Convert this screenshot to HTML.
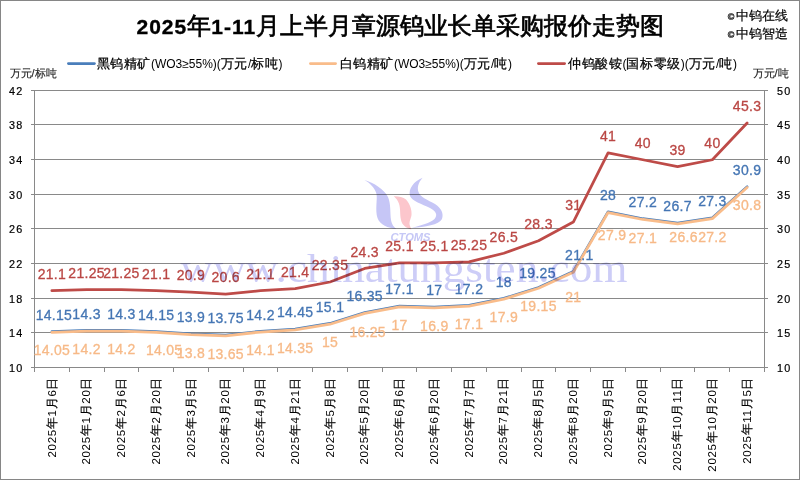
<!DOCTYPE html>
<html><head><meta charset="utf-8"><style>
html,body{margin:0;padding:0;background:#fff;}
body{width:800px;height:480px;overflow:hidden;position:relative;}
svg{position:absolute;left:0;top:0;}
</style></head><body>
<svg width="800" height="480" viewBox="0 0 800 480">
<rect x="0.5" y="0.5" width="799" height="479" fill="#fff" stroke="#868686" stroke-width="1"/>
<g><line x1="31" y1="90.5" x2="768" y2="90.5" stroke="#898989" stroke-width="1"/><line x1="31" y1="124.5" x2="768" y2="124.5" stroke="#898989" stroke-width="1"/><line x1="31" y1="159.5" x2="768" y2="159.5" stroke="#898989" stroke-width="1"/><line x1="31" y1="194.5" x2="768" y2="194.5" stroke="#898989" stroke-width="1"/><line x1="31" y1="228.5" x2="768" y2="228.5" stroke="#898989" stroke-width="1"/><line x1="31" y1="263.5" x2="768" y2="263.5" stroke="#898989" stroke-width="1"/><line x1="31" y1="298.5" x2="768" y2="298.5" stroke="#898989" stroke-width="1"/><line x1="31" y1="332.5" x2="768" y2="332.5" stroke="#898989" stroke-width="1"/><line x1="31" y1="367.5" x2="768" y2="367.5" stroke="#898989" stroke-width="1"/><line x1="34.5" y1="90" x2="34.5" y2="372" stroke="#898989" stroke-width="1"/><line x1="764.5" y1="90" x2="764.5" y2="368" stroke="#898989" stroke-width="1"/><line x1="69.5" y1="367" x2="69.5" y2="372" stroke="#898989" stroke-width="1"/><line x1="104.5" y1="367" x2="104.5" y2="372" stroke="#898989" stroke-width="1"/><line x1="138.5" y1="367" x2="138.5" y2="372" stroke="#898989" stroke-width="1"/><line x1="173.5" y1="367" x2="173.5" y2="372" stroke="#898989" stroke-width="1"/><line x1="208.5" y1="367" x2="208.5" y2="372" stroke="#898989" stroke-width="1"/><line x1="243.5" y1="367" x2="243.5" y2="372" stroke="#898989" stroke-width="1"/><line x1="277.5" y1="367" x2="277.5" y2="372" stroke="#898989" stroke-width="1"/><line x1="312.5" y1="367" x2="312.5" y2="372" stroke="#898989" stroke-width="1"/><line x1="347.5" y1="367" x2="347.5" y2="372" stroke="#898989" stroke-width="1"/><line x1="382.5" y1="367" x2="382.5" y2="372" stroke="#898989" stroke-width="1"/><line x1="416.5" y1="367" x2="416.5" y2="372" stroke="#898989" stroke-width="1"/><line x1="451.5" y1="367" x2="451.5" y2="372" stroke="#898989" stroke-width="1"/><line x1="486.5" y1="367" x2="486.5" y2="372" stroke="#898989" stroke-width="1"/><line x1="521.5" y1="367" x2="521.5" y2="372" stroke="#898989" stroke-width="1"/><line x1="555.5" y1="367" x2="555.5" y2="372" stroke="#898989" stroke-width="1"/><line x1="590.5" y1="367" x2="590.5" y2="372" stroke="#898989" stroke-width="1"/><line x1="625.5" y1="367" x2="625.5" y2="372" stroke="#898989" stroke-width="1"/><line x1="660.5" y1="367" x2="660.5" y2="372" stroke="#898989" stroke-width="1"/><line x1="694.5" y1="367" x2="694.5" y2="372" stroke="#898989" stroke-width="1"/><line x1="729.5" y1="367" x2="729.5" y2="372" stroke="#898989" stroke-width="1"/><line x1="764.5" y1="367" x2="764.5" y2="372" stroke="#898989" stroke-width="1"/></g>
<g><path d="M51.88,290.63 L86.64,289.59 L121.40,289.59 L156.17,290.63 L190.93,292.02 L225.69,294.10 L260.45,290.63 L295.21,288.56 L329.98,281.98 L364.74,268.47 L399.50,262.93 L434.26,262.93 L469.02,261.89 L503.79,253.24 L538.55,240.77 L573.31,222.07 L608.07,152.82 L642.83,159.75 L677.60,166.68 L712.36,159.75 L747.12,123.05" fill="none" stroke="#BE4B48" stroke-width="2.75" stroke-linecap="round" stroke-linejoin="round"/><path d="M51.88,331.58 L86.64,330.28 L121.40,330.28 L156.17,331.58 L190.93,333.74 L225.69,335.04 L260.45,331.14 L295.21,328.98 L329.98,323.35 L364.74,312.53 L399.50,306.04 L434.26,306.91 L469.02,305.18 L503.79,298.25 L538.55,287.43 L573.31,271.42 L608.07,211.69 L642.83,218.61 L677.60,222.94 L712.36,217.75 L747.12,186.58" fill="none" stroke="#4A7EBB" stroke-width="2.5" stroke-linecap="round" stroke-linejoin="round"/><path d="M51.88,332.44 L86.64,331.14 L121.40,331.14 L156.17,332.44 L190.93,334.61 L225.69,335.90 L260.45,332.01 L295.21,329.85 L329.98,324.22 L364.74,313.40 L399.50,306.91 L434.26,307.77 L469.02,306.04 L503.79,299.12 L538.55,288.30 L573.31,272.28 L608.07,212.55 L642.83,219.48 L677.60,223.81 L712.36,218.61 L747.12,187.45" fill="none" stroke="#F9BC8A" stroke-width="2.75" stroke-linecap="round" stroke-linejoin="round"/></g>
<g font-family="Liberation Sans, sans-serif" font-size="14" letter-spacing="0.3" stroke-width="0.3" text-anchor="middle"><text x="51.9" y="278.9" fill="#BA4744" stroke="#BA4744">21.1</text><text x="86.6" y="277.9" fill="#BA4744" stroke="#BA4744">21.25</text><text x="121.4" y="277.9" fill="#BA4744" stroke="#BA4744">21.25</text><text x="156.2" y="278.9" fill="#BA4744" stroke="#BA4744">21.1</text><text x="190.9" y="280.3" fill="#BA4744" stroke="#BA4744">20.9</text><text x="225.7" y="282.4" fill="#BA4744" stroke="#BA4744">20.6</text><text x="260.5" y="278.9" fill="#BA4744" stroke="#BA4744">21.1</text><text x="295.2" y="276.9" fill="#BA4744" stroke="#BA4744">21.4</text><text x="330.0" y="270.3" fill="#BA4744" stroke="#BA4744">22.35</text><text x="364.7" y="256.8" fill="#BA4744" stroke="#BA4744">24.3</text><text x="399.5" y="251.2" fill="#BA4744" stroke="#BA4744">25.1</text><text x="434.3" y="251.2" fill="#BA4744" stroke="#BA4744">25.1</text><text x="469.0" y="250.2" fill="#BA4744" stroke="#BA4744">25.25</text><text x="503.8" y="241.5" fill="#BA4744" stroke="#BA4744">26.5</text><text x="538.5" y="229.1" fill="#BA4744" stroke="#BA4744">28.3</text><text x="573.3" y="210.4" fill="#BA4744" stroke="#BA4744">31</text><text x="608.1" y="141.1" fill="#BA4744" stroke="#BA4744">41</text><text x="642.8" y="148.1" fill="#BA4744" stroke="#BA4744">40</text><text x="677.6" y="155.0" fill="#BA4744" stroke="#BA4744">39</text><text x="712.4" y="148.1" fill="#BA4744" stroke="#BA4744">40</text><text x="747.1" y="111.3" fill="#BA4744" stroke="#BA4744">45.3</text><text x="53.9" y="320.0" fill="#4576B4" stroke="#4576B4">14.15</text><text x="86.6" y="318.7" fill="#4576B4" stroke="#4576B4">14.3</text><text x="121.4" y="318.7" fill="#4576B4" stroke="#4576B4">14.3</text><text x="156.2" y="320.0" fill="#4576B4" stroke="#4576B4">14.15</text><text x="190.9" y="322.1" fill="#4576B4" stroke="#4576B4">13.9</text><text x="225.7" y="323.4" fill="#4576B4" stroke="#4576B4">13.75</text><text x="260.5" y="319.5" fill="#4576B4" stroke="#4576B4">14.2</text><text x="295.2" y="317.4" fill="#4576B4" stroke="#4576B4">14.45</text><text x="330.0" y="311.8" fill="#4576B4" stroke="#4576B4">15.1</text><text x="364.7" y="300.9" fill="#4576B4" stroke="#4576B4">16.35</text><text x="399.5" y="294.4" fill="#4576B4" stroke="#4576B4">17.1</text><text x="434.3" y="295.3" fill="#4576B4" stroke="#4576B4">17</text><text x="469.0" y="293.6" fill="#4576B4" stroke="#4576B4">17.2</text><text x="503.8" y="286.6" fill="#4576B4" stroke="#4576B4">18</text><text x="537.5" y="277.8" fill="#4576B4" stroke="#4576B4">19.25</text><text x="579.3" y="259.8" fill="#4576B4" stroke="#4576B4">21.1</text><text x="608.1" y="200.1" fill="#4576B4" stroke="#4576B4">28</text><text x="642.8" y="207.0" fill="#4576B4" stroke="#4576B4">27.2</text><text x="677.6" y="211.3" fill="#4576B4" stroke="#4576B4">26.7</text><text x="712.4" y="206.1" fill="#4576B4" stroke="#4576B4">27.3</text><text x="747.1" y="175.0" fill="#4576B4" stroke="#4576B4">30.9</text><text x="51.9" y="355.4" fill="#F7BA88" stroke="#F7BA88">14.05</text><text x="86.6" y="354.1" fill="#F7BA88" stroke="#F7BA88">14.2</text><text x="121.4" y="354.1" fill="#F7BA88" stroke="#F7BA88">14.2</text><text x="164.2" y="355.4" fill="#F7BA88" stroke="#F7BA88">14.05</text><text x="190.9" y="357.6" fill="#F7BA88" stroke="#F7BA88">13.8</text><text x="225.7" y="358.9" fill="#F7BA88" stroke="#F7BA88">13.65</text><text x="260.5" y="355.0" fill="#F7BA88" stroke="#F7BA88">14.1</text><text x="295.2" y="352.8" fill="#F7BA88" stroke="#F7BA88">14.35</text><text x="330.0" y="347.2" fill="#F7BA88" stroke="#F7BA88">15</text><text x="367.7" y="337.4" fill="#F7BA88" stroke="#F7BA88">16.25</text><text x="399.5" y="329.9" fill="#F7BA88" stroke="#F7BA88">17</text><text x="434.3" y="330.8" fill="#F7BA88" stroke="#F7BA88">16.9</text><text x="469.0" y="329.0" fill="#F7BA88" stroke="#F7BA88">17.1</text><text x="503.8" y="322.1" fill="#F7BA88" stroke="#F7BA88">17.9</text><text x="538.5" y="311.3" fill="#F7BA88" stroke="#F7BA88">19.15</text><text x="573.3" y="301.8" fill="#F7BA88" stroke="#F7BA88">21</text><text x="612.1" y="240.1" fill="#F7BA88" stroke="#F7BA88">27.9</text><text x="642.8" y="242.5" fill="#F7BA88" stroke="#F7BA88">27.1</text><text x="683.6" y="242.3" fill="#F7BA88" stroke="#F7BA88">26.6</text><text x="712.4" y="241.6" fill="#F7BA88" stroke="#F7BA88">27.2</text><text x="747.1" y="210.4" fill="#F7BA88" stroke="#F7BA88">30.8</text></g>
<g style="mix-blend-mode:multiply"><text x="404" y="282.2" text-anchor="middle" font-family="Liberation Serif" font-size="39" fill="#cdcdf7" textLength="447" lengthAdjust="spacingAndGlyphs">www.chinatungsten.com</text><g><path d="M364.4,180 C374,183 384,189 388,197 C391,204 390,213 391,220 C392,225 394,227 396.5,229 C388,228 380,225 377.5,218 C375,210 377.5,200 376.5,194 C375,188 370,183 364.4,180 Z" fill="#c6c6f6"/><path d="M393.8,196.2 C398,196 403,197 406,199.5 C410,204 412,210 411.5,215 C411,219 408.5,222 410,226 L411.3,229.4 C406,228 402,225 401,220 C399.5,213 401,207 398,201.5 C397,199 395,197.5 393.8,196.2 Z" fill="#fcc6cc"/><path d="M422.6,177.8 C418,183 417,188 418.5,192 C420,197 428,200 435,204 C441,208 444,213 442,219 C439,225 425,227 411.6,227.8 C421,225.5 430,223 434.5,219 C438,215 436,211 430,208 C422,204 412,201 410,196 C408,189 414,181 422.6,177.8 Z" fill="#c6c6f6"/><text x="410.5" y="240.5" text-anchor="middle" font-family="Liberation Sans" font-weight="bold" font-style="italic" font-size="11" fill="#c6c8f6" textLength="40" lengthAdjust="spacingAndGlyphs">CTOMS</text></g></g>
<g font-family="Liberation Sans, sans-serif" font-size="10.8" letter-spacing="1.2" fill="#000" stroke="#000" stroke-width="0.2"><text x="23.5" y="372" text-anchor="end">10</text><text x="777" y="372" text-anchor="start">10</text><text x="23.5" y="337" text-anchor="end">14</text><text x="777" y="337" text-anchor="start">15</text><text x="23.5" y="303" text-anchor="end">18</text><text x="777" y="303" text-anchor="start">20</text><text x="23.5" y="268" text-anchor="end">22</text><text x="777" y="268" text-anchor="start">25</text><text x="23.5" y="233" text-anchor="end">26</text><text x="777" y="233" text-anchor="start">30</text><text x="23.5" y="199" text-anchor="end">30</text><text x="777" y="199" text-anchor="start">35</text><text x="23.5" y="164" text-anchor="end">34</text><text x="777" y="164" text-anchor="start">40</text><text x="23.5" y="129" text-anchor="end">38</text><text x="777" y="129" text-anchor="start">45</text><text x="23.5" y="95" text-anchor="end">42</text><text x="777" y="95" text-anchor="start">50</text></g>
<g font-family="Liberation Sans, sans-serif" font-size="12" letter-spacing="0.7" fill="#000"><text transform="translate(55.5,376.8) rotate(-90)" text-anchor="end"><tspan font-size="11.5">2025</tspan><tspan font-size="12" stroke="#000" stroke-width="0.2">年</tspan><tspan font-size="11.5">1</tspan><tspan font-size="12" stroke="#000" stroke-width="0.2">月</tspan><tspan font-size="11.5">6</tspan><tspan font-size="12" stroke="#000" stroke-width="0.2">日</tspan></text><text transform="translate(90.2,376.8) rotate(-90)" text-anchor="end"><tspan font-size="11.5">2025</tspan><tspan font-size="12" stroke="#000" stroke-width="0.2">年</tspan><tspan font-size="11.5">1</tspan><tspan font-size="12" stroke="#000" stroke-width="0.2">月</tspan><tspan font-size="11.5">20</tspan><tspan font-size="12" stroke="#000" stroke-width="0.2">日</tspan></text><text transform="translate(125.0,376.8) rotate(-90)" text-anchor="end"><tspan font-size="11.5">2025</tspan><tspan font-size="12" stroke="#000" stroke-width="0.2">年</tspan><tspan font-size="11.5">2</tspan><tspan font-size="12" stroke="#000" stroke-width="0.2">月</tspan><tspan font-size="11.5">6</tspan><tspan font-size="12" stroke="#000" stroke-width="0.2">日</tspan></text><text transform="translate(159.8,376.8) rotate(-90)" text-anchor="end"><tspan font-size="11.5">2025</tspan><tspan font-size="12" stroke="#000" stroke-width="0.2">年</tspan><tspan font-size="11.5">2</tspan><tspan font-size="12" stroke="#000" stroke-width="0.2">月</tspan><tspan font-size="11.5">20</tspan><tspan font-size="12" stroke="#000" stroke-width="0.2">日</tspan></text><text transform="translate(194.5,376.8) rotate(-90)" text-anchor="end"><tspan font-size="11.5">2025</tspan><tspan font-size="12" stroke="#000" stroke-width="0.2">年</tspan><tspan font-size="11.5">3</tspan><tspan font-size="12" stroke="#000" stroke-width="0.2">月</tspan><tspan font-size="11.5">5</tspan><tspan font-size="12" stroke="#000" stroke-width="0.2">日</tspan></text><text transform="translate(229.3,376.8) rotate(-90)" text-anchor="end"><tspan font-size="11.5">2025</tspan><tspan font-size="12" stroke="#000" stroke-width="0.2">年</tspan><tspan font-size="11.5">3</tspan><tspan font-size="12" stroke="#000" stroke-width="0.2">月</tspan><tspan font-size="11.5">20</tspan><tspan font-size="12" stroke="#000" stroke-width="0.2">日</tspan></text><text transform="translate(264.1,376.8) rotate(-90)" text-anchor="end"><tspan font-size="11.5">2025</tspan><tspan font-size="12" stroke="#000" stroke-width="0.2">年</tspan><tspan font-size="11.5">4</tspan><tspan font-size="12" stroke="#000" stroke-width="0.2">月</tspan><tspan font-size="11.5">9</tspan><tspan font-size="12" stroke="#000" stroke-width="0.2">日</tspan></text><text transform="translate(298.8,376.8) rotate(-90)" text-anchor="end"><tspan font-size="11.5">2025</tspan><tspan font-size="12" stroke="#000" stroke-width="0.2">年</tspan><tspan font-size="11.5">4</tspan><tspan font-size="12" stroke="#000" stroke-width="0.2">月</tspan><tspan font-size="11.5">21</tspan><tspan font-size="12" stroke="#000" stroke-width="0.2">日</tspan></text><text transform="translate(333.6,376.8) rotate(-90)" text-anchor="end"><tspan font-size="11.5">2025</tspan><tspan font-size="12" stroke="#000" stroke-width="0.2">年</tspan><tspan font-size="11.5">5</tspan><tspan font-size="12" stroke="#000" stroke-width="0.2">月</tspan><tspan font-size="11.5">8</tspan><tspan font-size="12" stroke="#000" stroke-width="0.2">日</tspan></text><text transform="translate(368.3,376.8) rotate(-90)" text-anchor="end"><tspan font-size="11.5">2025</tspan><tspan font-size="12" stroke="#000" stroke-width="0.2">年</tspan><tspan font-size="11.5">5</tspan><tspan font-size="12" stroke="#000" stroke-width="0.2">月</tspan><tspan font-size="11.5">20</tspan><tspan font-size="12" stroke="#000" stroke-width="0.2">日</tspan></text><text transform="translate(403.1,376.8) rotate(-90)" text-anchor="end"><tspan font-size="11.5">2025</tspan><tspan font-size="12" stroke="#000" stroke-width="0.2">年</tspan><tspan font-size="11.5">6</tspan><tspan font-size="12" stroke="#000" stroke-width="0.2">月</tspan><tspan font-size="11.5">6</tspan><tspan font-size="12" stroke="#000" stroke-width="0.2">日</tspan></text><text transform="translate(437.9,376.8) rotate(-90)" text-anchor="end"><tspan font-size="11.5">2025</tspan><tspan font-size="12" stroke="#000" stroke-width="0.2">年</tspan><tspan font-size="11.5">6</tspan><tspan font-size="12" stroke="#000" stroke-width="0.2">月</tspan><tspan font-size="11.5">20</tspan><tspan font-size="12" stroke="#000" stroke-width="0.2">日</tspan></text><text transform="translate(472.6,376.8) rotate(-90)" text-anchor="end"><tspan font-size="11.5">2025</tspan><tspan font-size="12" stroke="#000" stroke-width="0.2">年</tspan><tspan font-size="11.5">7</tspan><tspan font-size="12" stroke="#000" stroke-width="0.2">月</tspan><tspan font-size="11.5">7</tspan><tspan font-size="12" stroke="#000" stroke-width="0.2">日</tspan></text><text transform="translate(507.4,376.8) rotate(-90)" text-anchor="end"><tspan font-size="11.5">2025</tspan><tspan font-size="12" stroke="#000" stroke-width="0.2">年</tspan><tspan font-size="11.5">7</tspan><tspan font-size="12" stroke="#000" stroke-width="0.2">月</tspan><tspan font-size="11.5">21</tspan><tspan font-size="12" stroke="#000" stroke-width="0.2">日</tspan></text><text transform="translate(542.1,376.8) rotate(-90)" text-anchor="end"><tspan font-size="11.5">2025</tspan><tspan font-size="12" stroke="#000" stroke-width="0.2">年</tspan><tspan font-size="11.5">8</tspan><tspan font-size="12" stroke="#000" stroke-width="0.2">月</tspan><tspan font-size="11.5">5</tspan><tspan font-size="12" stroke="#000" stroke-width="0.2">日</tspan></text><text transform="translate(576.9,376.8) rotate(-90)" text-anchor="end"><tspan font-size="11.5">2025</tspan><tspan font-size="12" stroke="#000" stroke-width="0.2">年</tspan><tspan font-size="11.5">8</tspan><tspan font-size="12" stroke="#000" stroke-width="0.2">月</tspan><tspan font-size="11.5">20</tspan><tspan font-size="12" stroke="#000" stroke-width="0.2">日</tspan></text><text transform="translate(611.7,376.8) rotate(-90)" text-anchor="end"><tspan font-size="11.5">2025</tspan><tspan font-size="12" stroke="#000" stroke-width="0.2">年</tspan><tspan font-size="11.5">9</tspan><tspan font-size="12" stroke="#000" stroke-width="0.2">月</tspan><tspan font-size="11.5">5</tspan><tspan font-size="12" stroke="#000" stroke-width="0.2">日</tspan></text><text transform="translate(646.4,376.8) rotate(-90)" text-anchor="end"><tspan font-size="11.5">2025</tspan><tspan font-size="12" stroke="#000" stroke-width="0.2">年</tspan><tspan font-size="11.5">9</tspan><tspan font-size="12" stroke="#000" stroke-width="0.2">月</tspan><tspan font-size="11.5">20</tspan><tspan font-size="12" stroke="#000" stroke-width="0.2">日</tspan></text><text transform="translate(681.2,376.8) rotate(-90)" text-anchor="end"><tspan font-size="11.5">2025</tspan><tspan font-size="12" stroke="#000" stroke-width="0.2">年</tspan><tspan font-size="11.5">10</tspan><tspan font-size="12" stroke="#000" stroke-width="0.2">月</tspan><tspan font-size="11.5">11</tspan><tspan font-size="12" stroke="#000" stroke-width="0.2">日</tspan></text><text transform="translate(716.0,376.8) rotate(-90)" text-anchor="end"><tspan font-size="11.5">2025</tspan><tspan font-size="12" stroke="#000" stroke-width="0.2">年</tspan><tspan font-size="11.5">10</tspan><tspan font-size="12" stroke="#000" stroke-width="0.2">月</tspan><tspan font-size="11.5">20</tspan><tspan font-size="12" stroke="#000" stroke-width="0.2">日</tspan></text><text transform="translate(750.7,376.8) rotate(-90)" text-anchor="end"><tspan font-size="11.5">2025</tspan><tspan font-size="12" stroke="#000" stroke-width="0.2">年</tspan><tspan font-size="11.5">11</tspan><tspan font-size="12" stroke="#000" stroke-width="0.2">月</tspan><tspan font-size="11.5">5</tspan><tspan font-size="12" stroke="#000" stroke-width="0.2">日</tspan></text></g>
<text x="136.5" y="33.5" font-family="Liberation Sans, sans-serif" font-weight="bold" font-size="21" fill="#000" stroke="#000" stroke-width="0.35"><tspan letter-spacing="1">2025</tspan><tspan font-size="24" font-weight="normal" stroke-width="0.7">年</tspan><tspan letter-spacing="1">1-11</tspan><tspan font-size="24" font-weight="normal" stroke-width="0.7">月上半月章源钨业长单采购报价走势图</tspan></text>
<g font-family="Liberation Sans, sans-serif" font-size="13" fill="#000">
<line x1="68.4" y1="63.5" x2="94.4" y2="63.5" stroke="#4A7EBB" stroke-width="2.75" stroke-linecap="round"/>
<text x="96.5" y="67.5"><tspan font-size="13" letter-spacing="0.6" stroke="#000" stroke-width="0.25">黑钨精矿</tspan><tspan font-size="12">(WO3≥55%)(</tspan><tspan font-size="13" letter-spacing="0.6" stroke="#000" stroke-width="0.25">万元</tspan><tspan font-size="12">/</tspan><tspan font-size="13" letter-spacing="0.6" stroke="#000" stroke-width="0.25">标吨</tspan><tspan font-size="12">)</tspan></text>
<line x1="310.4" y1="63.5" x2="335.6" y2="63.5" stroke="#F9BC8A" stroke-width="2.75" stroke-linecap="round"/>
<text x="339.5" y="67.5"><tspan font-size="13" letter-spacing="0.6" stroke="#000" stroke-width="0.25">白钨精矿</tspan><tspan font-size="12">(WO3≥55%)(</tspan><tspan font-size="13" letter-spacing="0.6" stroke="#000" stroke-width="0.25">万元</tspan><tspan font-size="12">/</tspan><tspan font-size="13" letter-spacing="0.6" stroke="#000" stroke-width="0.25">吨</tspan><tspan font-size="12">)</tspan></text>
<line x1="538.4" y1="63.5" x2="564.6" y2="63.5" stroke="#BE4B48" stroke-width="2.75" stroke-linecap="round"/>
<text x="568" y="67.5"><tspan font-size="13" letter-spacing="0.6" stroke="#000" stroke-width="0.25">仲钨酸铵</tspan><tspan font-size="12">(</tspan><tspan font-size="13" letter-spacing="0.6" stroke="#000" stroke-width="0.25">国标零级</tspan><tspan font-size="12">)(</tspan><tspan font-size="13" letter-spacing="0.6" stroke="#000" stroke-width="0.25">万元</tspan><tspan font-size="12">/</tspan><tspan font-size="13" letter-spacing="0.6" stroke="#000" stroke-width="0.25">吨</tspan><tspan font-size="12">)</tspan></text>
</g>
<g font-family="Liberation Sans, sans-serif" font-size="11" fill="#222" stroke="#222" stroke-width="0.15">
<text x="9.5" y="77">万元/标吨</text>
<text x="752.5" y="77">万元/吨</text>
</g>
<g font-family="Liberation Sans, sans-serif" font-size="13" fill="#000" stroke="#000" stroke-width="0.2">
<text x="727.8" y="19.5" font-size="9" font-weight="bold">©</text><text x="735.5" y="20" letter-spacing="0.2">中钨在线</text>
<text x="727.8" y="38" font-size="9" font-weight="bold">©</text><text x="735.5" y="38.3" letter-spacing="0.2">中钨智造</text>
</g>
</svg>
</body></html>
